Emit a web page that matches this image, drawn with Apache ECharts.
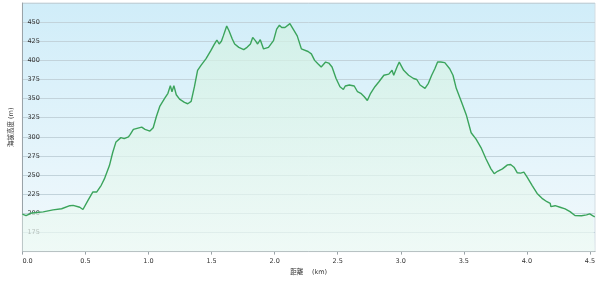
<!DOCTYPE html>
<html>
<head>
<meta charset="utf-8">
<script src="https://cdn.jsdelivr.net/npm/echarts@6/dist/echarts.min.js"></script>
<style>html,body{margin:0;padding:0;background:#fff;}#c{width:600px;height:281px;}</style>
</head>
<body>
<div id="c"></div>
<script>
var distanceKm = [0.0,0.029,0.076,0.165,0.243,0.311,0.376,0.402,0.455,0.480,0.520,0.559,0.590,0.625,0.650,0.690,0.716,0.742,0.781,0.807,0.841,0.854,0.880,0.946,0.972,1.011,1.037,1.063,1.089,1.129,1.154,1.173,1.186,1.201,1.220,1.246,1.285,1.311,1.338,1.364,1.389,1.416,1.455,1.495,1.520,1.542,1.560,1.578,1.593,1.620,1.638,1.664,1.683,1.716,1.755,1.781,1.808,1.826,1.847,1.865,1.886,1.912,1.951,1.991,2.016,2.038,2.056,2.082,2.121,2.147,2.179,2.212,2.265,2.291,2.317,2.343,2.369,2.404,2.429,2.455,2.487,2.518,2.545,2.560,2.592,2.631,2.657,2.683,2.709,2.735,2.761,2.795,2.827,2.866,2.905,2.931,2.944,2.970,2.988,3.023,3.062,3.101,3.127,3.153,3.192,3.219,3.245,3.270,3.292,3.317,3.349,3.388,3.414,3.440,3.480,3.519,3.558,3.597,3.636,3.676,3.715,3.741,3.767,3.806,3.846,3.871,3.898,3.924,3.950,3.976,4.002,4.041,4.081,4.120,4.159,4.185,4.190,4.224,4.263,4.303,4.342,4.381,4.433,4.473,4.498,4.524,4.538];
var elevationM = [199,197,200.5,202,204.5,206,210,210.5,208,205,217,228,228,236.7,245,262.5,279.6,293.4,299,297.7,300,303,309.8,312.8,309.8,307.6,311.9,327,339.8,350.5,357,367,359,367,355,349.3,345,343.3,346.3,365.6,387,393.5,402,413,420.6,426.6,421.4,424.9,432,445,438.7,428,421.4,417,414,417,421.4,430,425.8,421.4,427,415,417,425.8,440.8,446,443,443,448,440.8,432,415,411.6,408.5,400,395.6,391.3,397.8,396.5,391.3,376.3,365.6,362,366.5,367.8,366.5,359,357,352.7,347.5,357,365.6,372,380.6,382,387,380.6,391.3,397.8,387,380.6,376.3,375,367.8,363.4,370,380.6,389,397.8,397.8,397,389,380.6,363.4,346.3,329,305.4,297,286,271,258.2,251.8,255,258.2,263.4,263.8,260.3,253,252.6,253.9,247.4,236.7,226,219.6,215.2,213,208.8,210,208,205.8,202.3,197.2,196.8,198,199.3,196.8,195.5];
var xTicks = [0,0.5,1.0,1.5,2.0,2.5,3.0,3.5,4.0,4.5];
var yTicks = [175,200,225,250,275,300,325,350,375,400,425,450];
var xTitle = '距離　 (km)';
var yTitle = '海拔高度 (m)';

var seriesData = distanceKm.map(function (d, i) { return [d, elevationM[i]]; });

var chart = echarts.init(document.getElementById('c'), null, {renderer: 'canvas'});
chart.setOption({
  animation: false,
  backgroundColor: '#ffffff',
  grid: {
    left: 16, right: 5, top: 3, bottom: 24,
    show: true,
    borderColor: '#d3dde2',
    borderWidth: 1,
    backgroundColor: new echarts.graphic.LinearGradient(0, 0, 0, 1, [
      {offset: 0, color: '#d0edf9'},
      {offset: 1, color: '#f2f9fc'}
    ])
  },
  xAxis: {
    type: 'value',
    min: 0, max: 4.54, interval: 0.5,
    name: xTitle,
    nameLocation: 'middle',
    nameGap: 14,
    nameTextStyle: {fontFamily: 'DejaVu Sans, Noto Sans CJK JP', fontSize: 6.5, color: '#333'},
    axisLine: {show: true, lineStyle: {color: '#9aa3a8', width: 1}},
    axisTick: {show: true, length: 3, lineStyle: {color: '#9aa3a8'}, customValues: xTicks},
    axisLabel: {
      customValues: xTicks,
      alignMinLabel: 'left',
      margin: 6,
      fontFamily: 'DejaVu Sans', fontSize: 6.5, color: '#333',
      formatter: function (v) { return v.toFixed(1); }
    },
    splitLine: {show: false}
  },
  yAxis: {
    type: 'value',
    min: 150, max: 475, interval: 25,
    name: yTitle,
    nameLocation: 'middle',
    nameRotate: 90,
    nameGap: 1,
    nameTextStyle: {fontFamily: 'DejaVu Sans, Noto Sans CJK JP', fontSize: 6.5, color: '#333'},
    axisLine: {show: true, lineStyle: {color: '#9aa3a8', width: 1}},
    axisTick: {show: false},
    axisLabel: {
      inside: true,
      customValues: yTicks,
      margin: 5,
      verticalAlign: 'middle',
      padding: [0, 0, 7, 0],
      fontFamily: 'DejaVu Sans', fontSize: 6.5, color: '#333'
    },
    splitLine: {show: true, lineStyle: {color: '#c2d3db', width: 1}}
  },
  series: [{
    type: 'line',
    data: seriesData,
    showSymbol: false,
    smooth: false,
    lineStyle: {color: '#3ba45c', width: 1.4},
    areaStyle: {
      origin: 'start',
      color: new echarts.graphic.LinearGradient(0, 0, 0, 1, [
        {offset: 0, color: '#d2f1e2'},
        {offset: 1, color: '#eefaf4'}
      ])
    },
    silent: true
  }]
});
</script>
</body>
</html>
